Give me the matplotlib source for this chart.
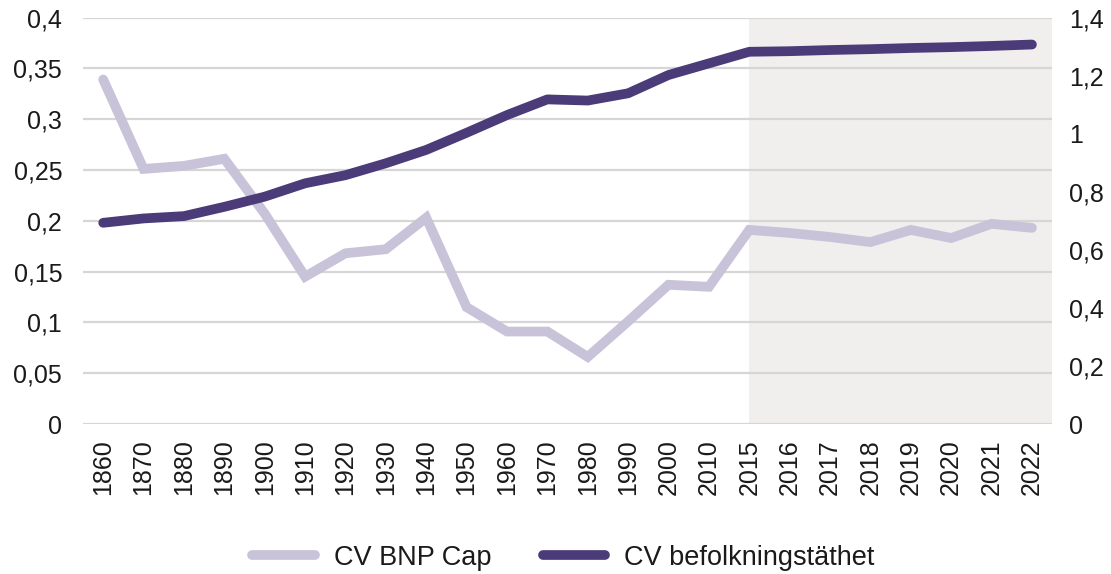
import numpy as np
import matplotlib.pyplot as plt
from matplotlib.ticker import FuncFormatter

# Data
years = ['1860', '1870', '1880', '1890', '1900', '1910', '1920', '1930',
         '1940', '1950', '1960', '1970', '1980', '1990', '2000', '2010',
         '2015', '2016', '2017', '2018', '2019', '2020', '2021', '2022']

cv_bnp_cap = [0.339, 0.251, 0.254, 0.261, 0.207, 0.145, 0.168, 0.172,
              0.203, 0.115, 0.091, 0.091, 0.066, 0.101, 0.137, 0.135,
              0.191, 0.188, 0.184, 0.179, 0.191, 0.183, 0.197, 0.193]

cv_befolkning = [0.693, 0.708, 0.716, 0.748, 0.783, 0.829, 0.857, 0.898,
                 0.944, 1.003, 1.064, 1.118, 1.114, 1.139, 1.202, 1.242,
                 1.282, 1.284, 1.288, 1.291, 1.295, 1.298, 1.302, 1.307]

left_ticks = [0, 0.05, 0.1, 0.15, 0.2, 0.25, 0.3, 0.35, 0.4]
right_ticks = [0, 0.2, 0.4, 0.6, 0.8, 1.0, 1.2, 1.4]

light = '#c8c3d8'
dark = '#4b3b78'
text_color = '#1a1a1a'

plt.rcParams['font.family'] = ['Liberation Sans', 'DejaVu Sans']

x = np.arange(len(years))


def komma(v, pos):
    s = ('%g' % v).replace('.', ',')
    return s


fig = plt.figure(figsize=(11.11, 5.74), dpi=100)
ax = fig.add_axes([0.0747, 0.2613, 0.8723, 0.7082])
ax2 = ax.twinx()

# grått fält från 2015 och framåt
ax.axvspan(years.index('2015'), len(years) - 0.5, color='#f0efed', zorder=0, lw=0)

for v in left_ticks:
    ax.axhline(v, color='#d6d6d6', lw=1.6, zorder=1)

l1, = ax.plot(x, cv_bnp_cap, color=light, lw=7, solid_capstyle='round',
              solid_joinstyle='miter', zorder=3, label='CV BNP Cap')
l2, = ax2.plot(x, cv_befolkning, color=dark, lw=7, solid_capstyle='round',
               solid_joinstyle='round', zorder=3, label='CV befolkningstäthet')

ax.set_xlim(-0.5, len(years) - 0.5)
ax.set_ylim(0, 0.4)
ax2.set_ylim(0, 1.4)

ax.set_xticks(x)
ax.set_xticklabels(years, rotation=90)
ax.set_yticks(left_ticks)
ax2.set_yticks(right_ticks)
ax.yaxis.set_major_formatter(FuncFormatter(komma))
ax2.yaxis.set_major_formatter(FuncFormatter(komma))

for a in (ax, ax2):
    for s in a.spines.values():
        s.set_visible(False)
ax.tick_params(axis='y', length=0, pad=15, labelsize=18, labelcolor=text_color)
ax.tick_params(axis='x', length=0, pad=11, labelsize=18, labelcolor=text_color)
ax2.tick_params(axis='y', length=0, pad=12, labelsize=18, labelcolor=text_color)

leg = fig.legend(handles=[l1, l2], loc='center', bbox_to_anchor=(0.507, 0.028),
                 ncol=2, frameon=False, fontsize=19.5, handlelength=2.3,
                 handletextpad=0.7, columnspacing=1.9)
for t in leg.get_texts():
    t.set_color(text_color)

fig.savefig('out.png', dpi=100)
